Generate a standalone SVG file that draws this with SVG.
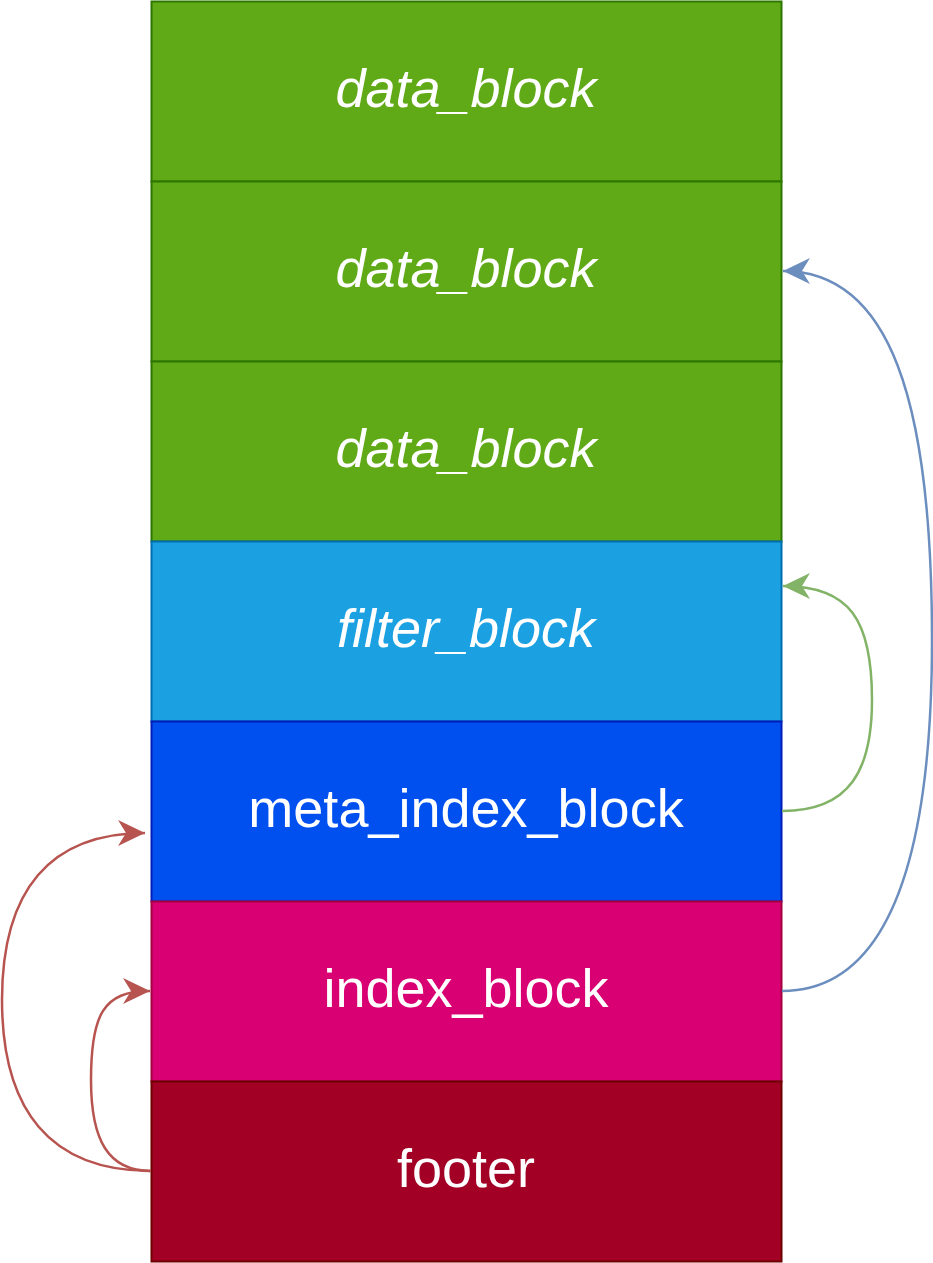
<svg xmlns="http://www.w3.org/2000/svg" width="933" height="1263" viewBox="0 0 933 1263">
  <style>
    .blk { stroke-width: 2; }
    .lbl { font-family: "Liberation Sans", Arial, sans-serif; font-size: 54px; fill: #ffffff; text-anchor: middle; }
    .it { font-style: italic; }
    .edge { fill: none; stroke-width: 2.5; }
  </style>
  <defs>
    <marker id="ahBlue" markerUnits="userSpaceOnUse" markerWidth="30" markerHeight="30" viewBox="-28 -14 30 28" refX="0" refY="0" orient="auto">
      <path d="M0 0 L-27 -13 L-19 0 L-27 13 Z" fill="#6c8ebf"/>
    </marker>
    <marker id="ahGreen" markerUnits="userSpaceOnUse" markerWidth="30" markerHeight="30" viewBox="-28 -14 30 28" refX="0" refY="0" orient="auto">
      <path d="M0 0 L-27 -13 L-19 0 L-27 13 Z" fill="#82b366"/>
    </marker>
    <marker id="ahRed" markerUnits="userSpaceOnUse" markerWidth="30" markerHeight="30" viewBox="-28 -14 30 28" refX="0" refY="0" orient="auto">
      <path d="M0 0 L-27 -13 L-19 0 L-27 13 Z" fill="#b85450"/>
    </marker>
  </defs>

  <g id="data_block_1">
    <rect class="blk" x="151.5" y="1.5" width="630" height="180" fill="#60a917" stroke="#2d7600"/>
    <text class="lbl it" x="466" y="107">data_block</text>
  </g>
  <g id="data_block_2">
    <rect class="blk" x="151.5" y="181.5" width="630" height="180" fill="#60a917" stroke="#2d7600"/>
    <text class="lbl it" x="466" y="287">data_block</text>
  </g>
  <g id="data_block_3">
    <rect class="blk" x="151.5" y="361.5" width="630" height="180" fill="#60a917" stroke="#2d7600"/>
    <text class="lbl it" x="466" y="467">data_block</text>
  </g>
  <g id="filter_block">
    <rect class="blk" x="151.5" y="541.5" width="630" height="180" fill="#1ba1e2" stroke="#006eaf"/>
    <text class="lbl it" x="466" y="647">filter_block</text>
  </g>
  <g id="meta_index_block">
    <rect class="blk" x="151.5" y="721.5" width="630" height="180" fill="#0050ef" stroke="#001dbc"/>
    <text class="lbl" x="466" y="827">meta_index_block</text>
  </g>
  <g id="index_block">
    <rect class="blk" x="151.5" y="901.5" width="630" height="180" fill="#d80073" stroke="#a50040"/>
    <text class="lbl" x="466" y="1007">index_block</text>
  </g>
  <g id="footer">
    <rect class="blk" x="151.5" y="1081.5" width="630" height="180" fill="#a20025" stroke="#6f0000"/>
    <text class="lbl" x="466" y="1187">footer</text>
  </g>

  <g id="connectors">
    <!-- index_block -> data_block -->
    <path class="edge" stroke="#6c8ebf" marker-end="url(#ahBlue)" d="M782 991 C880 991 932 880 932 640 C932 400 890 271 783 271"/>
    <!-- meta_index_block -> filter_block -->
    <path class="edge" stroke="#82b366" marker-end="url(#ahGreen)" d="M782 811 C850 811 872 770 872 700 C872 620 850 586 783 586"/>
    <!-- footer -> meta_index_block -->
    <path class="edge" stroke="#b85450" marker-end="url(#ahRed)" d="M151 1171 C50 1171 2 1110 2 1000 C2 890 50 833 145 833"/>
    <!-- footer -> index_block -->
    <path class="edge" stroke="#b85450" marker-end="url(#ahRed)" d="M151 1171 C108 1171 91 1140 91 1080 C91 1015 103 991 150 991"/>
  </g>
</svg>
